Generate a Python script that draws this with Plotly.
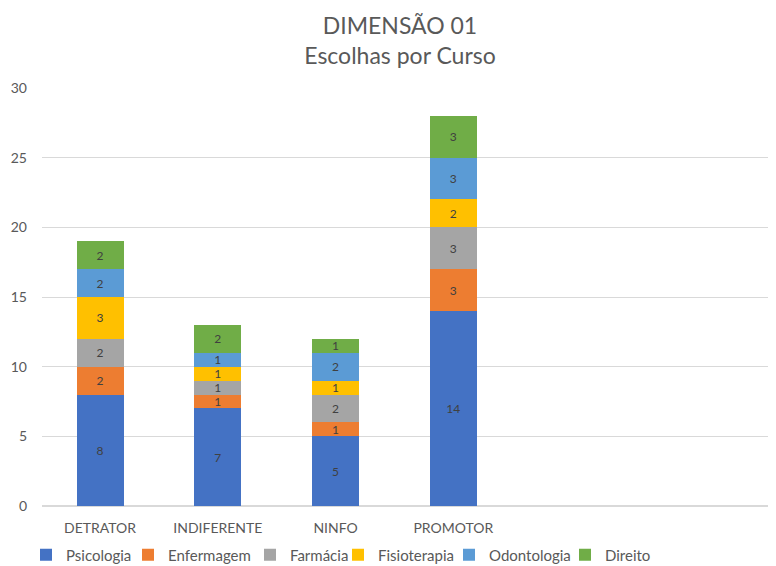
import plotly.graph_objects as go

categories = ["DETRATOR", "INDIFERENTE", "NINFO", "PROMOTOR"]
psicologia = [8, 7, 5, 14]
enfermagem = [2, 1, 1, 3]
farmacia = [2, 1, 2, 3]
fisioterapia = [3, 1, 1, 2]
odontologia = [2, 1, 2, 3]
direito = [2, 2, 1, 3]
series_names = ["Psicologia", "Enfermagem", "Farmácia", "Fisioterapia", "Odontologia", "Direito"]
series_values = [psicologia, enfermagem, farmacia, fisioterapia, odontologia, direito]
colors = ["#4472C4", "#ED7D31", "#A5A5A5", "#FFC000", "#5B9BD5", "#70AD47"]
y_ticks = [0, 5, 10, 15, 20, 25, 30]

FONT = "Lato, 'Open Sans', sans-serif"
# page body adds an 8px offset; the figure is sized to the visible area
W, H = 768, 558
legend_px = [18, 120, 242, 330, 441, 557]

fig = go.Figure()
layout_legends = {}
for i, (name, vals, col) in enumerate(zip(series_names, series_values, colors)):
    lname = "legend" if i == 0 else f"legend{i+1}"
    fig.add_trace(go.Bar(
        name=name, x=categories, y=vals, legend=lname, showlegend=True,
        marker=dict(color=col, line=dict(width=0)),
        text=vals, texttemplate="%{text}", textposition="inside",
        insidetextanchor="middle", textangle=0, constraintext="none",
        textfont=dict(family=FONT, size=12, color="#404040"),
    ))
    layout_legends[lname] = dict(
        orientation="h", xref="container", yref="container",
        x=legend_px[i] / W, xanchor="left", y=1 - 547 / H, yanchor="middle",
        font=dict(family=FONT, size=15, color="#595959"), itemwidth=30,
        bgcolor="rgba(0,0,0,0)",
    )

fig.update_layout(
    barmode="stack", bargap=0.6, showlegend=True,
    width=W, height=H,
    paper_bgcolor="white", plot_bgcolor="white",
    margin=dict(l=34, r=0, t=80, b=60, autoexpand=False),
    font=dict(family=FONT, color="#595959", size=14),
    title=dict(text="DIMENSÃO 01<br>Escolhas por Curso", xref="container", x=392 / W,
               xanchor="center", yref="container", y=0.953, yanchor="top",
               font=dict(family=FONT, size=23, color="#595959")),
    uniformtext=dict(mode="show", minsize=11),
    xaxis=dict(type="category", range=[-0.493, 5.74], showgrid=False, showline=False,
               automargin=False, ticks="", ticklabelstandoff=12,
               tickfont=dict(size=14, color="#595959")),
    yaxis=dict(range=[0, 30], tickvals=y_ticks, showgrid=True, gridcolor="#D9D9D9",
               gridwidth=1, zeroline=True, zerolinecolor="#D9D9D9", showline=False,
               automargin=False, ticks="", ticklabelstandoff=14,
               tickfont=dict(size=14, color="#595959")),
    **layout_legends,
)
fig.write_html("out.html")
